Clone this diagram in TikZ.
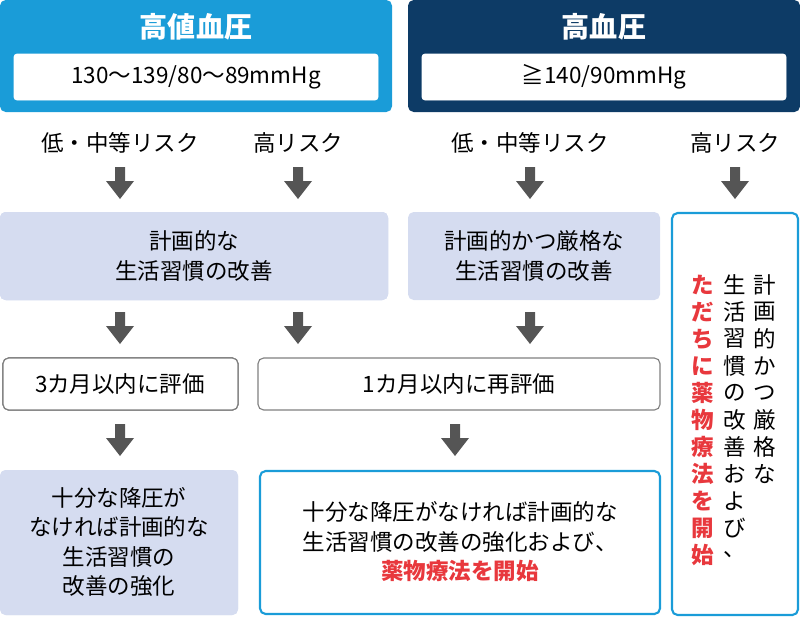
\documentclass[tikz,border=0pt]{standalone}
\usepackage{fontspec}
\setmainfont{Noto Sans CJK JP}
\definecolor{hvblue}{HTML}{1A9CD8}
\definecolor{htnavy}{HTML}{0D3B66}
\definecolor{pale}{HTML}{D5DCF0}
\definecolor{drugred}{HTML}{E8383D}
\definecolor{arrowgray}{HTML}{555555}
\tikzset{
  txt/.style = {font=\fontsize{16}{21}\selectfont, align=center},
  head/.style = {rounded corners=4pt},
  inner/.style = {draw=white, fill=white, rounded corners=2pt},
  pale box/.style = {fill=pale, rounded corners=4pt},
  grey box/.style = {draw=gray, line width=0.8pt, fill=white, rounded corners=4pt},
  blue box/.style = {draw=hvblue, line width=1.5pt, fill=white, rounded corners=4pt},
  down/.style = {fill=arrowgray}
}
\newcommand{\stepdown}[2]{%
  \fill[down] (#1-5,#2) -- (#1+5,#2) -- (#1+5,#2+14) -- (#1+14,#2+14) -- (#1,#2+32) -- (#1-14,#2+14) -- (#1-5,#2+14) -- cycle;}
\begin{document}
\begin{tikzpicture}[x=0.025cm, y=-0.025cm]
	 \useasboundingbox (0,0) rectangle (800,619);
	 % headers
	 \fill[hvblue, head] (0,0) rectangle (392,112);
	 \fill[htnavy, head] (408,0) rectangle (800,112);
	 \fill[inner] (14,54) rectangle (378,100);
	 \fill[inner] (422,54) rectangle (786,100);
	 \node[txt, white, font=\fontsize{20}{24}\selectfont\bfseries] (hvtitle) at (196,27) {高値血圧};
	 \node[txt, white, font=\fontsize{20}{24}\selectfont\bfseries] (httitle) at (604,27) {高血圧};
	 \node[txt] (hvrange) at (196,77) {130〜139/80〜89mmHg};
	 \node[txt] (htrange) at (604,77) {≧140/90mmHg};
	 % risk labels
	 \node[txt] (risk1) at (120,143) {低・中等リスク};
	 \node[txt] (risk2) at (298,143) {高リスク};
	 \node[txt] (risk3) at (530,143) {低・中等リスク};
	 \node[txt] (risk4) at (735,143) {高リスク};
	 \foreach \x in {120, 298, 530, 735}
	 \stepdown{\x}{167}
	 % lifestyle
	 \fill[pale box] (0,212) rectangle (388,300);
	 \fill[pale box] (408,212) rectangle (660,300);
	 \node[txt] (life1) at (194,256) {計画的な\\生活習慣の改善};
	 \node[txt] (life2) at (534,256) {計画的かつ厳格な\\生活習慣の改善};
	 \draw[blue box] (672,213) rectangle (798,615);
	 \foreach \c [count=\i] in {計,画,的,か,つ,厳,格,な}
	 \node[txt] at (765,258+27*\i) {\c};
	 \foreach \c [count=\i] in {生,活,習,慣,の,改,善,お,よ,び,、}
	 \node[txt] at (735,258+27*\i) {\c};
	 \foreach \c [count=\i] in {た,だ,ち,に,薬,物,療,法,を,開,始}
	 \node[txt, drugred, font=\fontsize{16}{21}\selectfont\bfseries] at (703,258+27*\i) {\c};
	 \foreach \x in {120, 298, 530}
	 \stepdown{\x}{312}
	 % evaluation
	 \draw[grey box] (3,358) rectangle (238,410);
	 \draw[grey box] (258,358) rectangle (660,410);
	 \node[txt] (eval1) at (120,384) {3カ月以内に評価};
	 \node[txt] (eval2) at (459,384) {1カ月以内に再評価};
	 \foreach \x in {120, 455}
	 \stepdown{\x}{424}
	 % outcomes
	 \fill[pale box] (0,470) rectangle (238,615);
	 \draw[blue box] (260,471) rectangle (660,614);
	 \node[txt] (out1) at (119,542) {十分な降圧が\\なければ計画的な\\生活習慣の\\改善の強化};
	 \node[txt] (out2) at (460,542) {十分な降圧がなければ計画的な\\生活習慣の改善の強化および、\\{\bfseries\color{drugred}薬物療法を開始}};
\end{tikzpicture}
\end{document}
